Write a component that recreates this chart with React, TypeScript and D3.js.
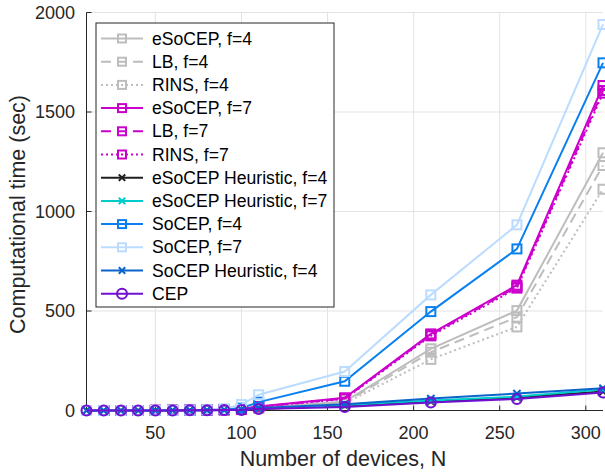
import React, { useRef, useEffect } from 'react'
import * as d3 from 'd3'

const devices = [10, 20, 30, 40, 50, 60, 70, 80, 90, 100, 110, 160, 210, 260, 310]

const eSoCEP4 = [0, 0, 0, 0, 0, 1, 1, 2, 3, 5, 14, 45, 310, 502, 1295]
const lb4 = [0, 0, 0, 0, 0, 1, 1, 2, 3, 5, 13, 40, 293, 469, 1231]
const rins4 = [0, 0, 0, 0, 0, 1, 1, 2, 3, 4, 12, 36, 257, 420, 1112]
const eSoCEP7 = [0, 0, 0, 0, 1, 1, 2, 3, 4, 7, 20, 64, 385, 630, 1633]
const lb7 = [0, 0, 0, 0, 1, 1, 2, 3, 4, 7, 19, 60, 380, 622, 1608]
const rins7 = [0, 0, 0, 0, 1, 1, 2, 3, 4, 7, 19, 58, 375, 615, 1595]
const heur4 = [0, 0, 0, 0, 0, 0, 1, 1, 2, 3, 8, 25, 45, 65, 95]
const heur7 = [0, 0, 0, 0, 0, 1, 1, 1, 2, 4, 9, 28, 50, 70, 105]
const soCEP4 = [0, 0, 0, 0, 0, 1, 2, 3, 5, 12, 42, 147, 497, 812, 1747]
const soCEP7 = [0, 0, 0, 0, 1, 1, 2, 4, 9, 30, 79, 196, 581, 933, 1940]
const soHeur4 = [0, 0, 0, 0, 0, 1, 1, 2, 3, 5, 12, 32, 60, 85, 112]
const cep = [0, 0, 0, 0, 0, 0, 1, 1, 2, 3, 7, 17, 40, 58, 90]

const xTicks = [50, 100, 150, 200, 250, 300]
const yTicks = [0, 500, 1000, 1500, 2000]

type Serie = { name: string; values: number[]; color: string; dash: string; marker: 'square' | 'x' | 'circle' }

const series: Serie[] = [
  { name: 'eSoCEP, f=4', values: eSoCEP4, color: '#bdbdbd', dash: '', marker: 'square' },
  { name: 'LB, f=4', values: lb4, color: '#bdbdbd', dash: '10,6', marker: 'square' },
  { name: 'RINS, f=4', values: rins4, color: '#bdbdbd', dash: '2,3', marker: 'square' },
  { name: 'eSoCEP, f=7', values: eSoCEP7, color: '#cc00cc', dash: '', marker: 'square' },
  { name: 'LB, f=7', values: lb7, color: '#cc00cc', dash: '10,6', marker: 'square' },
  { name: 'RINS, f=7', values: rins7, color: '#cc00cc', dash: '2,3', marker: 'square' },
  { name: 'eSoCEP Heuristic, f=4', values: heur4, color: '#1f1f1f', dash: '', marker: 'x' },
  { name: 'eSoCEP Heuristic, f=7', values: heur7, color: '#00cccc', dash: '', marker: 'x' },
  { name: 'SoCEP, f=4', values: soCEP4, color: '#0a80f0', dash: '', marker: 'square' },
  { name: 'SoCEP, f=7', values: soCEP7, color: '#bcdcff', dash: '', marker: 'square' },
  { name: 'SoCEP Heuristic, f=4', values: soHeur4, color: '#0a64cc', dash: '', marker: 'x' },
  { name: 'CEP', values: cep, color: '#7010d0', dash: '', marker: 'circle' },
]

const font = '"Liberation Sans", Arial, Helvetica, sans-serif'
const ink = '#262626'

function drawMarker(g: any, kind: string, cx: number, cy: number, color: string, size: number) {
  const h = size / 2
  if (kind === 'square') {
    g.append('rect')
      .attr('x', cx - h).attr('y', cy - h)
      .attr('width', size).attr('height', size)
      .attr('fill', 'none').attr('stroke', color).attr('stroke-width', 2)
  } else if (kind === 'circle') {
    g.append('circle')
      .attr('cx', cx).attr('cy', cy).attr('r', h)
      .attr('fill', 'none').attr('stroke', color).attr('stroke-width', 2)
  } else {
    const k = h * 0.8
    g.append('path')
      .attr('d', `M${cx - k},${cy - k}L${cx + k},${cy + k}M${cx - k},${cy + k}L${cx + k},${cy - k}`)
      .attr('stroke', color).attr('stroke-width', 2).attr('fill', 'none')
  }
}

export default function App() {
  const ref = useRef<SVGSVGElement>(null)

  useEffect(() => {
    const svg = d3.select(ref.current)
    svg.selectAll('*').remove()

    const left = 86.5
    const right = 603
    const top = 12.5
    const bottom = 410.5

    const x = d3.scaleLinear().domain([10, 310]).range([left, right])
    const y = d3.scaleLinear().domain([0, 2000]).range([bottom, top])

    svg.append('rect').attr('width', 605).attr('height', 475).attr('fill', '#fff')

    // grid
    const grid = svg.append('g').attr('stroke', '#e3e3e3').attr('stroke-width', 1)
    xTicks.forEach((t) => {
      grid.append('line').attr('x1', x(t)).attr('x2', x(t)).attr('y1', top).attr('y2', bottom)
    })
    yTicks.filter((t) => t > 0).forEach((t) => {
      grid.append('line').attr('x1', left).attr('x2', right).attr('y1', y(t)).attr('y2', y(t))
    })

    // axes
    const axes = svg.append('g').attr('stroke', ink).attr('stroke-width', 1)
    axes.append('line').attr('x1', left).attr('x2', left).attr('y1', top).attr('y2', bottom)
    axes.append('line').attr('x1', left).attr('x2', right).attr('y1', bottom).attr('y2', bottom)
    xTicks.forEach((t) => {
      axes.append('line').attr('x1', x(t)).attr('x2', x(t)).attr('y1', bottom).attr('y2', bottom - 5)
    })
    yTicks.forEach((t) => {
      axes.append('line').attr('x1', left).attr('x2', left + 5).attr('y1', y(t)).attr('y2', y(t))
    })

    const labels = svg.append('g').attr('font-family', font).attr('fill', ink)
    xTicks.forEach((t) => {
      labels.append('text').attr('x', x(t)).attr('y', 439).attr('text-anchor', 'middle')
        .attr('font-size', 18).text(t)
    })
    yTicks.forEach((t) => {
      labels.append('text').attr('x', 75).attr('y', y(t)).attr('dy', '0.35em').attr('text-anchor', 'end')
        .attr('font-size', 18).text(t)
    })
    labels.append('text').attr('x', 343).attr('y', 466).attr('text-anchor', 'middle')
      .attr('font-size', 21.5).text('Number of devices, N')
    labels.append('text').attr('transform', `translate(25,${(top + bottom) / 2 + 3}) rotate(-90)`)
      .attr('text-anchor', 'middle').attr('font-size', 21.5).text('Computational time (sec)')

    // series
    const line = d3.line<number>()
      .x((_, i) => x(devices[i]))
      .y((d) => y(d))

    series.forEach((s) => {
      const g = svg.append('g')
      g.append('path')
        .datum(s.values)
        .attr('fill', 'none')
        .attr('stroke', s.color)
        .attr('stroke-width', 2)
        .attr('stroke-dasharray', s.dash || null)
        .attr('d', line)
      s.values.forEach((v, i) => {
        drawMarker(g, s.marker, x(devices[i]), y(v), s.color, s.marker === 'circle' ? 10 : 9)
      })
    })

    // legend
    const lg = svg.append('g')
    lg.append('rect').attr('x', 96).attr('y', 23).attr('width', 238).attr('height', 284)
      .attr('fill', '#fff').attr('stroke', ink).attr('stroke-width', 1)
    series.forEach((s, i) => {
      const cy = 38.5 + i * 23.2
      lg.append('line').attr('x1', 101).attr('x2', 143).attr('y1', cy).attr('y2', cy)
        .attr('stroke', s.color).attr('stroke-width', 2).attr('stroke-dasharray', s.dash || null)
      drawMarker(lg, s.marker, 122, cy, s.color, s.marker === 'circle' ? 10 : 8)
      lg.append('text').attr('x', 152).attr('y', cy).attr('dy', '0.35em')
        .attr('font-family', font).attr('font-size', 17.6).attr('fill', '#000').text(s.name)
    })
  }, [])

  return (
    <svg ref={ref} width={605} height={475} style={{ position: 'absolute', left: 0, top: 0 }}></svg>
  )
}
